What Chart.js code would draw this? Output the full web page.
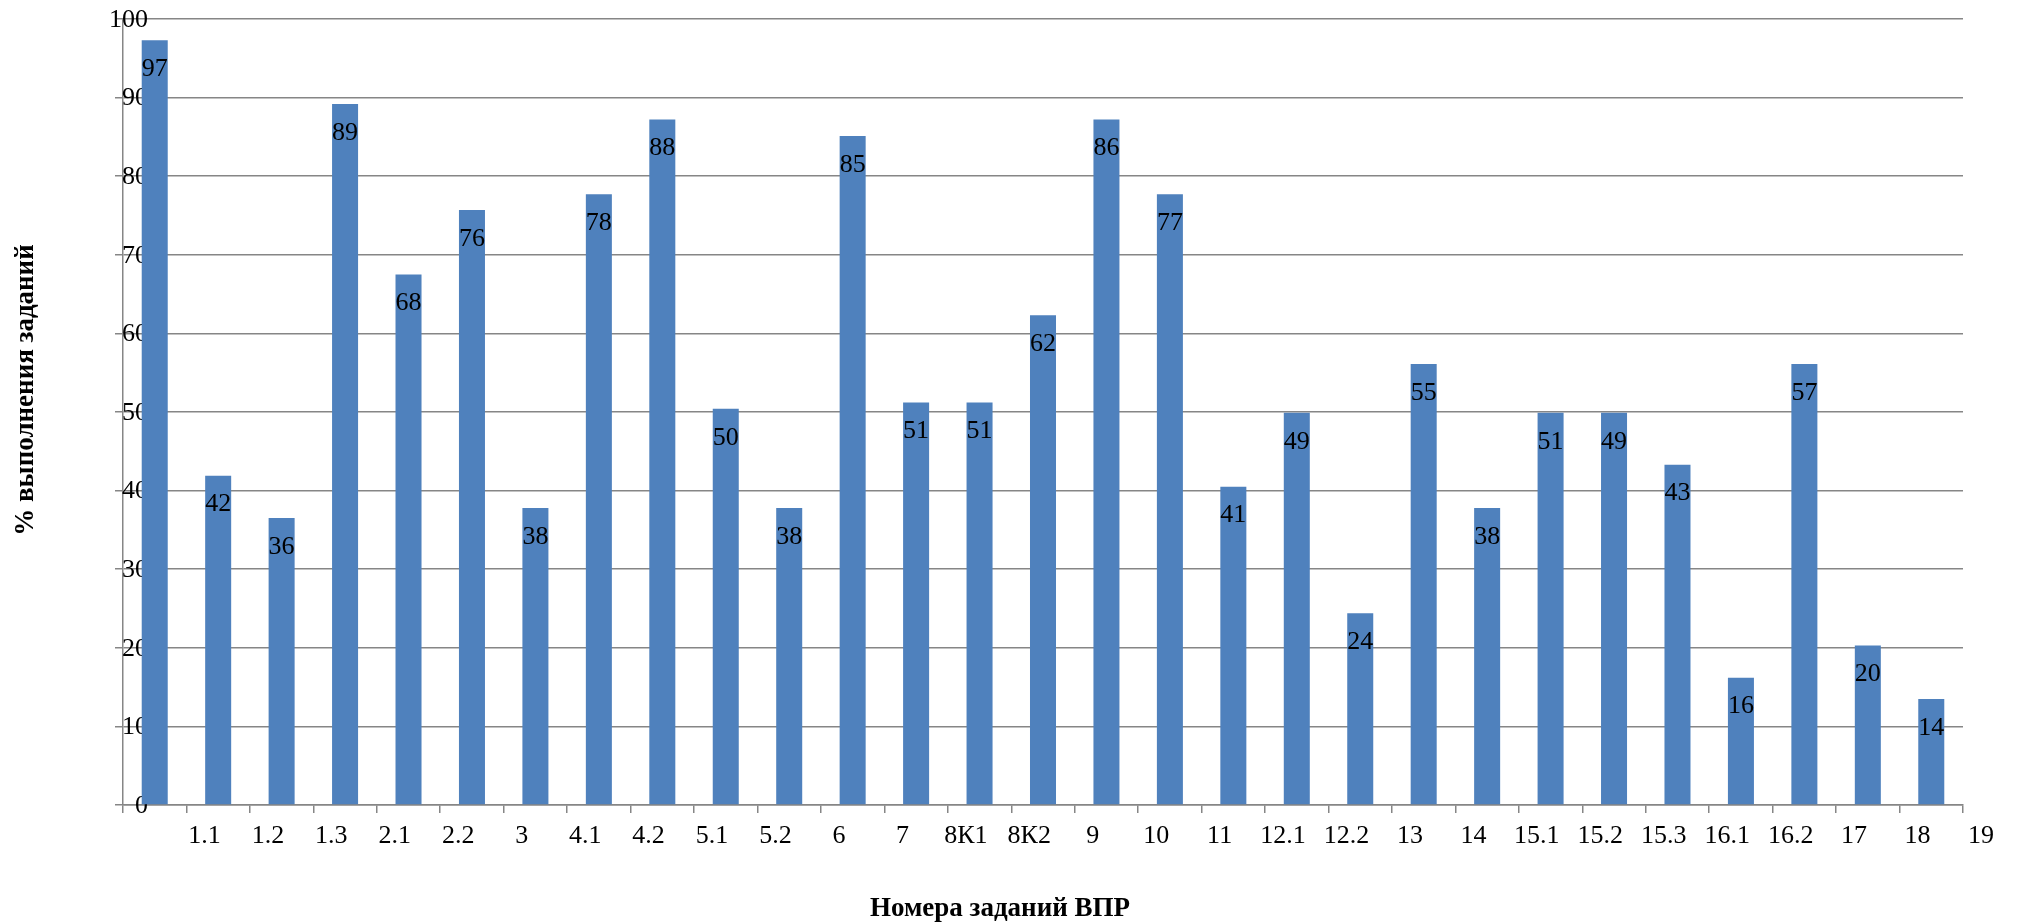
<!DOCTYPE html>
<html>
<head>
<meta charset="utf-8">
<script src="https://cdn.jsdelivr.net/npm/chart.js@4"></script>
<style>
  html, body { margin: 0; padding: 0; background: #fff; }
  #wrap { width: 2017px; height: 924px; }
</style>
</head>
<body>
<div id="wrap"><canvas id="vpr" width="2017" height="924"></canvas></div>
<script>
// task numbers under the axis (they sit one slot to the right, as in the original)
const taskLabels = ['1.1', '1.2', '1.3', '2.1', '2.2', '3', '4.1', '4.2', '5.1', '5.2', '6', '7',
  '8К1', '8К2', '9', '10', '11', '12.1', '12.2', '13', '14', '15.1', '15.2', '15.3',
  '16.1', '16.2', '17', '18', '19'];

// bar heights, % of completion
const barValues = [97.3, 41.9, 36.5, 89.2, 67.5, 75.7, 37.8, 77.7, 87.2, 50.4, 37.8, 85.1,
  51.2, 51.2, 62.3, 87.2, 77.7, 40.5, 49.9, 24.4, 56.1, 37.8, 49.9, 49.9, 43.3,
  16.2, 56.1, 20.3, 13.5];

// numbers printed on the bars
const shownValues = [97, 42, 36, 89, 68, 76, 38, 78, 88, 50, 38, 85, 51, 51, 62, 86, 77,
  41, 49, 24, 55, 38, 51, 49, 43, 16, 57, 20, 14];

const slots = barValues.map((v, i) => 'b' + i);

const yTitle = '% выполнения заданий';
const xTitle = 'Номера заданий ВПР';

const SERIF = '"Liberation Serif", "Times New Roman", serif';
const GRID = '#868686';
const target = { left: 123, top: 19, right: 1963, bottom: 805 };

// y numbers sit on top of the axis line and get covered by the bars
const yTickText = {
  id: 'yTickText',
  beforeDatasetsDraw(chart) {
    const ctx = chart.ctx;
    const y = chart.scales.y;
    ctx.save();
    ctx.font = '26px ' + SERIF;
    ctx.fillStyle = '#000';
    ctx.textAlign = 'right';
    ctx.textBaseline = 'middle';
    y.ticks.forEach(t => ctx.fillText(String(t.value), chart.chartArea.left + 25, y.getPixelForValue(t.value) + 1));
    ctx.restore();
  }
};

const barLabels = {
  id: 'barLabels',
  afterDatasetsDraw(chart) {
    const ctx = chart.ctx;
    const meta = chart.getDatasetMeta(0);
    ctx.save();
    ctx.font = '26px ' + SERIF;
    ctx.fillStyle = '#000';
    ctx.textAlign = 'center';
    ctx.textBaseline = 'middle';
    meta.data.forEach((bar, i) => ctx.fillText(String(shownValues[i]), bar.x, bar.y + 29));
    ctx.restore();
  }
};

const axisTitles = {
  id: 'axisTitles',
  afterDraw(chart) {
    const ctx = chart.ctx;
    ctx.save();
    ctx.font = 'bold 27px ' + SERIF;
    ctx.fillStyle = '#000';
    ctx.textAlign = 'center';
    ctx.textBaseline = 'middle';
    ctx.fillText(xTitle, 1000, 909);
    ctx.translate(26, 390);
    ctx.rotate(-Math.PI / 2);
    ctx.fillText(yTitle, 0, 0);
    ctx.restore();
  }
};

const chart = new Chart(document.getElementById('vpr'), {
  type: 'bar',
  data: {
    labels: slots,
    datasets: [{
      data: barValues,
      backgroundColor: '#4F81BD',
      borderWidth: 0,
      barPercentage: 0.41,
      categoryPercentage: 1
    }]
  },
  options: {
    responsive: false,
    animation: false,
    devicePixelRatio: 1,
    layout: { padding: { left: 0, top: 0, right: 0, bottom: 0 } },
    plugins: { legend: { display: false }, tooltip: { enabled: false } },
    scales: {
      x: {
        offset: true,
        grid: { offset: true, drawOnChartArea: false, drawTicks: true, tickLength: 8, color: GRID, lineWidth: 1.5 },
        border: { display: true, color: GRID, width: 1.5 },
        ticks: { display: false }
      },
      x2: {
        type: 'linear',
        position: 'bottom',
        offset: false,
        min: 0,
        max: taskLabels.length,
        grid: { display: false, drawTicks: false },
        border: { display: false },
        ticks: {
          stepSize: 1,
          autoSkip: false,
          maxRotation: 0,
          labelOffset: 18,
          padding: 8,
          color: '#000',
          font: { family: SERIF, size: 26 },
          callback: v => (v >= 1 ? taskLabels[v - 1] : '')
        }
      },
      y: {
        min: 0,
        max: 100,
        grid: { color: GRID, lineWidth: 1.5, drawTicks: true, tickLength: 8 },
        border: { display: true, color: GRID, width: 1.5 },
        ticks: { stepSize: 10, display: false }
      }
    }
  },
  plugins: [yTickText, barLabels, axisTitles]
});

// nudge the padding so the plot area lands where the original has it
function fitArea() {
  const a = chart.chartArea;
  const p = chart.options.layout.padding;
  p.left += target.left - a.left;
  p.top += target.top - a.top;
  p.right += a.right - target.right;
  p.bottom += a.bottom - target.bottom;
  chart.update('none');
}
fitArea();
fitArea();
</script>
</body>
</html>
